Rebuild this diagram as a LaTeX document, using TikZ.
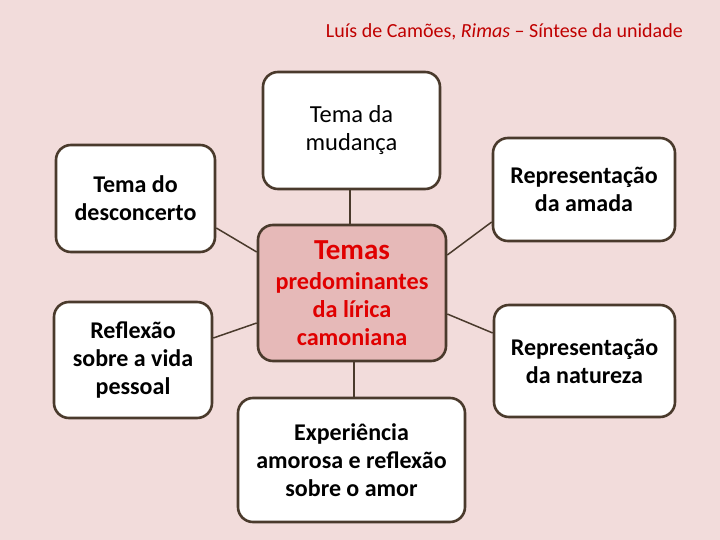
\documentclass[tikz,border=0pt]{standalone}
\usepackage{fontspec}
\setmainfont{Carlito}
\definecolor{bgpink}{HTML}{F2DCDB}
\definecolor{centerfill}{HTML}{E6B9B8}
\definecolor{edgebrown}{HTML}{4A3A2C}
\definecolor{titlered}{HTML}{C00000}
\definecolor{centerred}{HTML}{E00000}
\begin{document}
\begin{tikzpicture}[x=1pt,y=-1pt,
  box/.style={draw=edgebrown, line width=2.6pt, rounded corners=15pt, fill=white, align=center, inner sep=0pt},
  bluetxt/.style={font=\fontsize{24}{28}\selectfont\bfseries},
  link/.style={draw=edgebrown, line width=1.5pt}]
\fill[bgpink] (0,0) rectangle (720,540);
\useasboundingbox (0,0) rectangle (720,540);
\node[anchor=east, inner sep=0pt, text=titlered, font=\fontsize{20}{22}\selectfont] (title) at (683,31.5) {Luís de Camões, \textit{Rimas} – Síntese da unidade};
\node[box, minimum width=177pt, minimum height=117pt, font=\fontsize{24.5}{28}\selectfont] (mud) at (351.5,130.5) {Tema da\\mudança};
\node[box, minimum width=159pt, minimum height=107pt, bluetxt] (des) at (135.5,198.5) {Tema do\\desconcerto};
\node[box, minimum width=182pt, minimum height=103pt, bluetxt] (ama) at (584,189.5) {Representação\\da amada};
\node[box, minimum width=158pt, minimum height=116pt, bluetxt] (ref) at (133,360) {Reflexão\\sobre a vida\\pessoal};
\node[box, minimum width=181pt, minimum height=112pt, bluetxt] (nat) at (584.5,361) {Representação\\da natureza};
\node[box, minimum width=227pt, minimum height=124pt, bluetxt] (exp) at (351.5,460) {Experiência\\amorosa e reflexão\\sobre o amor};
\node[box, fill=centerfill, minimum width=188pt, minimum height=136pt, text=centerred, font=\fontsize{24.2}{28}\selectfont\bfseries] (cen) at (352,293) {{\fontsize{29}{30}\selectfont Temas}\\[2pt]predominantes\\da lírica\\camoniana};
\draw[link] ([xshift=-1.5pt]mud.south) -- ([xshift=-2pt]cen.north);
\draw[link] ([xshift=2pt]cen.south) -- ([xshift=2.5pt]exp.north);
\draw[link] ([yshift=-29.5pt]des.east) -- ([yshift=41pt]cen.west);
\draw[link] ([yshift=22pt]ref.east) -- ([yshift=-30pt]cen.west);
\draw[link] ([yshift=-32.5pt]ama.west) -- ([yshift=38pt]cen.east);
\draw[link] ([yshift=28pt]nat.west) -- ([yshift=-21pt]cen.east);
\end{tikzpicture}
\end{document}
